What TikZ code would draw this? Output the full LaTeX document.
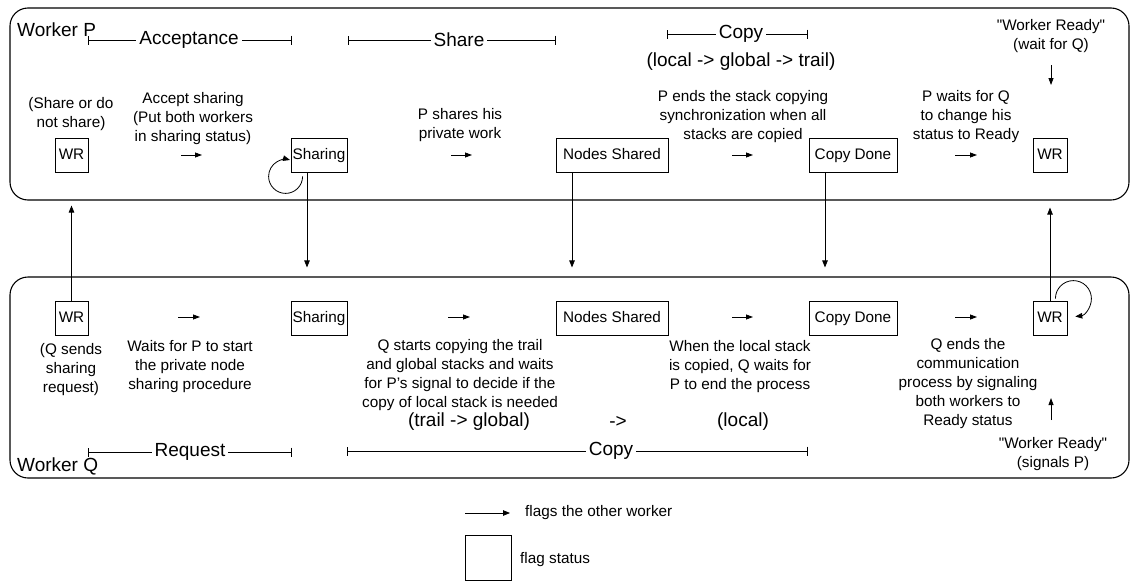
\documentclass[tikz,border=0pt]{standalone}
\usepackage{fontspec}
\setmainfont{Liberation Sans}[Ligatures=TeXOff]
\usetikzlibrary{arrows.meta}
\newcommand\smallfnt{\fontsize{15.3}{19}\selectfont}
\newcommand\bigfnt{\fontsize{19}{22}\selectfont}
\begin{document}
\begin{tikzpicture}[x=1pt,y=1pt,
  panel/.style={draw, line width=1.1pt, rounded corners=18pt, inner sep=0pt},
  flagbox/.style={draw, line width=0.8pt, minimum height=34pt, inner xsep=1pt, inner ysep=0pt,
    text height=11pt, text depth=3pt, font=\smallfnt},
  note/.style={align=center, font=\smallfnt, inner sep=0pt},
  big/.style={font=\bigfnt, inner sep=0pt},
  span/.style={line width=0.8pt, {Bar[width=9pt]}-{Bar[width=9pt]}},
  spanlabel/.style={fill=white, font=\bigfnt, inner xsep=3pt, inner ysep=0pt},
  conn/.style={line width=0.8pt, -{Triangle[length=7pt,width=5.5pt]}},
  flagarrow/.style={line width=0.8pt, -{Triangle[length=7pt,width=5pt]}}
]
\useasboundingbox (0,0) rectangle (1131,-581);

% the two worker panels
\node[panel, minimum width=1119pt, minimum height=192pt] (boxP) at (569.5,-104) {};
\node[panel, minimum width=1119pt, minimum height=201pt] (boxQ) at (569.5,-377.5) {};

\node[big, anchor=west] (labP) at (17,-30) {Worker P};
\node[big, anchor=west] (labQ) at (17,-466) {Worker Q};

% phase intervals of worker P
\coordinate (accA) at (88,-40);  \coordinate (accB) at (292,-40);
\draw[span] (accA) -- (accB);
\node[spanlabel] (accL) at (189,-40) {Acceptance};
\coordinate (shaA) at (348,-40); \coordinate (shaB) at (556,-40);
\draw[span] (shaA) -- (shaB);
\node[spanlabel] (shaL) at (459,-40) {Share};
\coordinate (cpyA) at (667,-34); \coordinate (cpyB) at (808,-34);
\draw[span] (cpyA) -- (cpyB);
\node[spanlabel] (cpyL) at (741,-34) {Copy};
\node[big] (cpyOrd) at (741,-62) {(local -> global -> trail)};

% phase intervals of worker Q
\coordinate (reqA) at (88,-452); \coordinate (reqB) at (292,-452);
\draw[span] (reqA) -- (reqB);
\node[spanlabel] (reqL) at (190,-452) {Request};
\coordinate (qcpA) at (347,-451); \coordinate (qcpB) at (808,-451);
\draw[span] (qcpA) -- (qcpB);
\node[spanlabel] (qcpL) at (611,-451) {Copy};
\node[big] (ordA) at (469,-422) {(trail -> global)};
\node[big] (ordB) at (618,-422) {->};
\node[big] (ordC) at (743,-422) {(local)};

% flag states of worker P
\node[flagbox, minimum width=33pt]  (pWR1) at (71.5,-155) {WR};
\node[flagbox, minimum width=56pt]  (pSh)  at (319,-155)  {Sharing};
\node[flagbox, minimum width=112pt] (pNS)  at (612,-155)  {Nodes Shared};
\node[flagbox, minimum width=88pt]  (pCD)  at (853,-155)  {Copy Done};
\node[flagbox, minimum width=34pt]  (pWR2) at (1050,-155) {WR};

% flag states of worker Q
\node[flagbox, minimum width=33pt]  (qWR1) at (71.5,-318) {WR};
\node[flagbox, minimum width=56pt]  (qSh)  at (319,-318)  {Sharing};
\node[flagbox, minimum width=112pt] (qNS)  at (612,-318)  {Nodes Shared};
\node[flagbox, minimum width=88pt]  (qCD)  at (853,-318)  {Copy Done};
\node[flagbox, minimum width=34pt]  (qWR2) at (1050,-318) {WR};

% descriptions, worker P
\node[note] (dP1) at (71,-114.5) {(Share or do\\not share)};
\node[note] (dP2) at (193,-119) {Accept sharing\\(Put both workers\\in sharing status)};
\node[note] (dP3) at (460,-125) {P shares his\\private work};
\node[note] (dP4) at (743,-117) {P ends the stack copying\\synchronization when all\\stacks are copied};
\node[note] (dP5) at (966,-117) {P waits for Q\\to change his\\status to Ready};
\node[note] (dP6) at (1051,-36.5) {"Worker Ready"\\(wait for Q)};

% descriptions, worker Q
\node[note] (dQ1) at (71,-369.5) {(Q sends\\sharing\\request)};
\node[note] (dQ2) at (190,-366.5) {Waits for P to start\\the private node\\sharing procedure};
\node[note] (dQ3) at (460,-375) {Q starts copying the trail\\and global stacks and waits\\for P’s signal to decide if the\\copy of local stack is needed};
\node[note] (dQ4) at (740,-366.5) {When the local stack\\is copied, Q waits for\\P to end the process};
\node[note] (dQ5) at (968,-383.5) {Q ends the\\communication\\process by signaling\\both workers to\\Ready status};
\node[note] (dQ6) at (1053,-454) {"Worker Ready"\\(signals P)};

% flag arrows between states
\foreach \a/\b in {181/202, 451/472, 732/753, 955/977}
  \draw[flagarrow] (\a,-155) -- (\b,-155);
\foreach \a/\b in {178/200, 448/470, 732/753, 955/977}
  \draw[flagarrow] (\a,-317) -- (\b,-317);
\draw[flagarrow] (1051,-65) -- (1051,-85);
\draw[flagarrow] (1051,-420) -- (1051,-398);

% signals between the workers
\draw[conn] (qWR1.north) -- ([yshift=-5pt]qWR1.north |- boxP.south);
\draw[conn] ([xshift=-12pt]pSh.south) -- ([xshift=-12pt,yshift=9pt]pSh.south |- boxQ.north);
\draw[conn] ([xshift=-40pt]pNS.south) -- ([xshift=-40pt,yshift=9pt]pNS.south |- boxQ.north);
\draw[conn] ([xshift=-28pt]pCD.south) -- ([xshift=-28pt,yshift=9pt]pCD.south |- boxQ.north);
\draw[conn] (qWR2.north) -- ([yshift=-7pt]qWR2.north |- boxP.south);

% self loops
\draw[conn] ([xshift=12pt,yshift=-4pt]pSh.south west) arc[start angle=0, end angle=-285, radius=17pt];
\draw[conn] ([xshift=-12pt,yshift=2pt]qWR2.north east) arc[start angle=180, end angle=-84, radius=18pt];

% legend
\coordinate (legA) at (465,-513); \coordinate (legB) at (510,-513);
\draw[conn] (legA) -- (legB);
\node[note, anchor=west] (legT1) at (525,-513) {flags the other worker};
\node[draw, line width=0.8pt, minimum width=46pt, minimum height=45pt, inner sep=0pt] (legbox) at (488,-557.5) {};
\node[note, anchor=west] (legT2) at (520,-560) {flag status};
\end{tikzpicture}
\end{document}
